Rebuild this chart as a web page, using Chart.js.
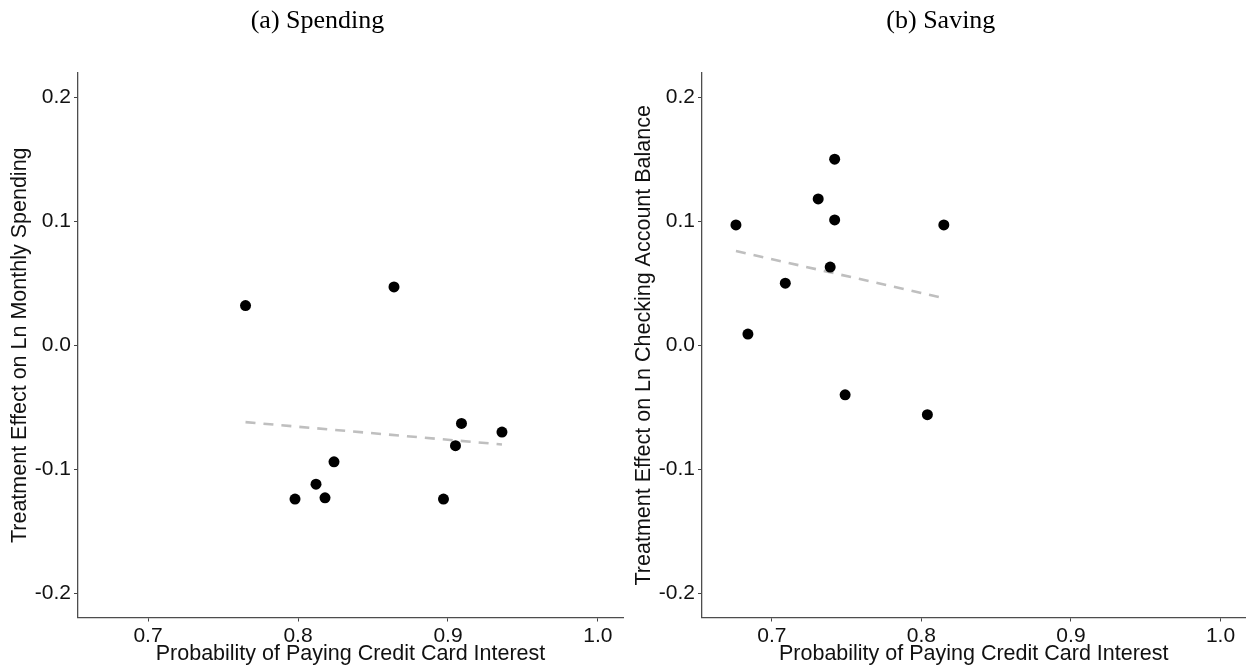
<!DOCTYPE html>
<html>
<head>
<meta charset="utf-8">
<script src="https://cdn.jsdelivr.net/npm/chart.js@4.4.1/dist/chart.umd.min.js"></script>
<style>
  body { margin: 0; background: #fff; }
  canvas { position: absolute; top: 0; }
  #spend { left: 0; }
  #save { left: 624px; }
</style>
</head>
<body>
<canvas id="spend" width="635" height="669"></canvas>
<canvas id="save" width="627" height="669"></canvas>
<script>
// tick labels shared by both panels
var xTicks = [0.7, 0.8, 0.9, 1.0];
var yTicks = [-0.2, -0.1, 0.0, 0.1, 0.2];

// (a) spending: x = prob of paying cc interest, y = treatment effect
var spendX = [0.765, 0.798, 0.812, 0.818, 0.824, 0.864, 0.897, 0.905, 0.909, 0.936];
var spendY = [0.032, -0.124, -0.112, -0.123, -0.094, 0.047, -0.124, -0.081, -0.063, -0.070];
var spendFitX = [0.765, 0.936];
var spendFitY = [-0.062, -0.080];

// (b) saving
var saveX = [0.676, 0.684, 0.709, 0.731, 0.742, 0.742, 0.739, 0.749, 0.804, 0.815];
var saveY = [0.097, 0.009, 0.050, 0.118, 0.150, 0.101, 0.063, -0.040, -0.056, 0.097];
var saveFitX = [0.676, 0.815];
var saveFitY = [0.076, 0.038];

Chart.defaults.font.family = "'Liberation Sans', Arial, sans-serif";
Chart.defaults.color = "#111";

function toPoints(xs, ys) {
  return xs.map((x, i) => ({ x: x, y: ys[i] }));
}

// pad = layout padding, yw = y axis box width, yt = y title offset
function makePanel(id, title, yTitle, xs, ys, fx, fy, pad, yw, yt) {
  var ctx = document.getElementById(id).getContext("2d");
  return new Chart(ctx, {
    type: "scatter",
    data: {
      datasets: [
        {
          data: toPoints(xs, ys),
          backgroundColor: "#000",
          borderWidth: 0,
          pointRadius: 5.5,
        },
        {
          type: "line",
          data: toPoints(fx, fy),
          borderColor: "#bfbfbf",
          borderWidth: 2.6,
          borderDash: [10, 8],
          pointRadius: 0,
          fill: false,
        },
      ],
    },
    options: {
      responsive: false,
      animation: false,
      devicePixelRatio: 1,
      layout: { padding: pad },
      plugins: {
        legend: { display: false },
        tooltip: { enabled: false },
        title: {
          display: true,
          text: title,
          color: "#000",
          font: { family: "'Liberation Serif', 'Times New Roman', serif", size: 26, weight: "normal" },
          padding: { top: 6, bottom: 35.8 },
        },
      },
      scales: {
        x: {
          type: "linear",
          min: 0.6533,
          max: 1.0167,
          afterBuildTicks: (s) => { s.ticks = xTicks.map((v) => ({ value: v })); },
          afterFit: (s) => { s.height = 51.5; },
          ticks: { callback: (v) => v.toFixed(1), font: { size: 21 }, padding: 2, color: "#111" },
          grid: { drawOnChartArea: false, drawTicks: true, tickLength: 4, color: "#444" },
          border: { display: true, color: "#4d4d4d", width: 1.3 },
          title: {
            display: true,
            text: "Probability of Paying Credit Card Interest",
            font: { size: 21.5 },
            color: "#111",
            padding: { top: 0, bottom: 2 },
          },
        },
        y: {
          type: "linear",
          min: -0.2195,
          max: 0.2195,
          afterBuildTicks: (s) => { s.ticks = yTicks.map((v) => ({ value: v })); },
          afterFit: (s) => { s.width = yw; },
          ticks: { callback: (v) => v.toFixed(1), font: { size: 21 }, padding: 3, color: "#111" },
          grid: { drawOnChartArea: false, drawTicks: true, tickLength: 4, color: "#444" },
          border: { display: true, color: "#4d4d4d", width: 1.3 },
          title: {
            display: true,
            text: yTitle,
            font: { size: 21.5 },
            color: "#111",
            padding: { top: yt, bottom: 0 },
          },
        },
      },
    },
  });
}

makePanel("spend", "(a) Spending", "Treatment Effect on Ln Monthly Spending",
  spendX, spendY, spendFitX, spendFitY,
  { left: 12, right: 12, top: 0, bottom: 0 }, 66, -5);
makePanel("save", "(b) Saving", "Treatment Effect on Ln Checking Account Balance",
  saveX, saveY, saveFitX, saveFitY,
  { left: 10, right: 3.3, top: 0, bottom: 0 }, 68, -3);
</script>
</body>
</html>
